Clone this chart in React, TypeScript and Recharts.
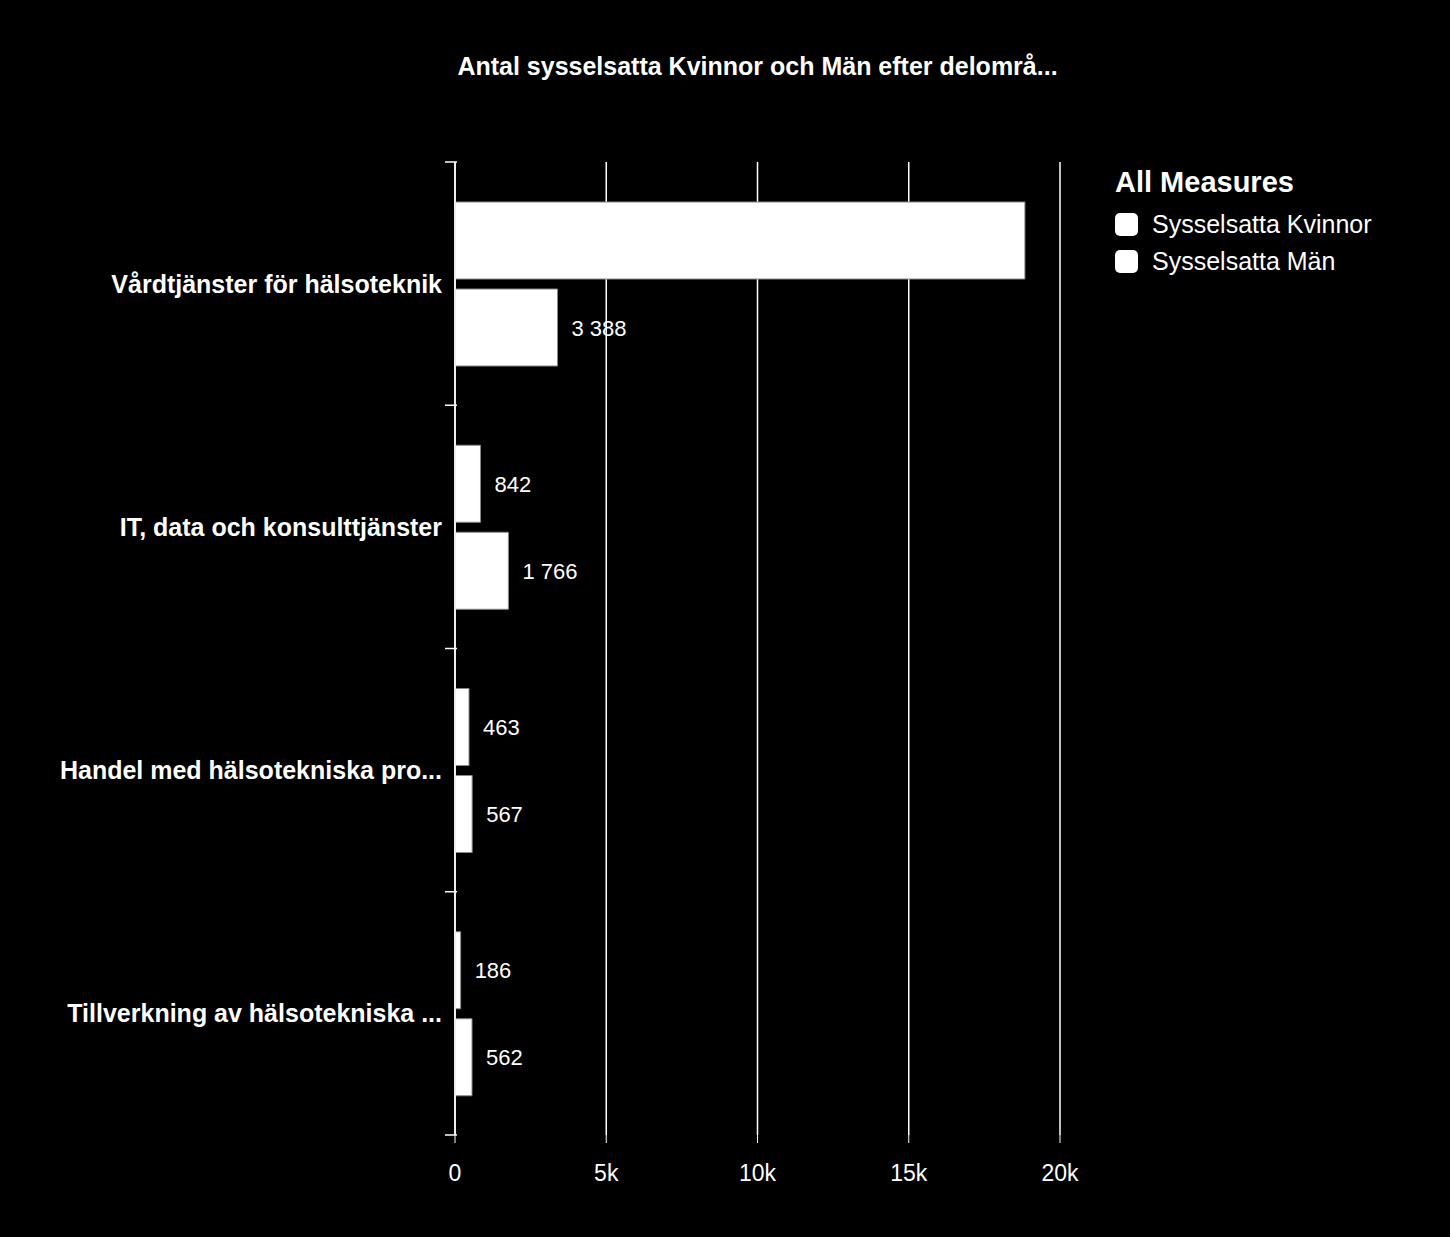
import { BarChart, Bar, XAxis, YAxis, CartesianGrid, LabelList } from "recharts";

const categories = [
  "Vårdtjänster för hälsoteknik",
  "IT, data och konsulttjänster",
  "Handel med hälsotekniska pro...",
  "Tillverkning av hälsotekniska ...",
];
const kvinnor = [18840, 842, 463, 186];
const man = [3388, 1766, 567, 562];
const xTicks = [0, 5000, 10000, 15000, 20000];

const data = categories.map((name, i) => ({ name, kvinnor: kvinnor[i], man: man[i] }));

const FONT = '"Liberation Sans", Arial, sans-serif';
const W = 1450;
const H = 1237;
const M = { top: 162, right: 390, bottom: 42, left: 0 };
const X_AXIS_H = 60;
const half = (H - M.top - M.bottom - X_AXIS_H) / categories.length / 2;

function fmt(v: number): string {
  return String(v).replace(/\B(?=(\d{3})+(?!\d))/g, " ");
}

function CategoryTick(props: any) {
  const { x, y, payload, index } = props;
  const ax = x + 10;
  return (
    <g>
      <line x1={ax - 12} x2={ax} y1={y - half} y2={y - half} stroke="#fff" strokeWidth={1.5} />
      {index === categories.length - 1 && (
        <line x1={ax - 12} x2={ax} y1={y + half} y2={y + half} stroke="#fff" strokeWidth={1.5} />
      )}
      <text x={x - 5} y={y} dy={9} textAnchor="end" fill="#fff" fontSize={25} fontWeight="bold" fontFamily={FONT}>
        {payload.value}
      </text>
    </g>
  );
}

function ValueLabel(props: any) {
  const { x, y, width, height, value } = props;
  const inside = x + width + 120 > W - M.right;
  return (
    <text
      x={inside ? x + width - 14 : x + width + 14}
      y={y + height / 2}
      dy={8}
      textAnchor={inside ? "end" : "start"}
      fill="#fff"
      fontSize={22}
      fontFamily={FONT}
    >
      {fmt(value)}
    </text>
  );
}

const legendItems = ["Sysselsatta Kvinnor", "Sysselsatta Män"];

export default function App() {
  return (
    <div style={{ position: "absolute", left: 0, top: 0, width: W, height: H, background: "#000", fontFamily: FONT }}>
      <div
        style={{
          position: "absolute",
          left: 455,
          width: 605,
          top: 52,
          textAlign: "center",
          color: "#fff",
          fontSize: 25,
          fontWeight: "bold",
          whiteSpace: "nowrap",
        }}
      >
        Antal sysselsatta Kvinnor och Män efter delområ...
      </div>
      <div style={{ position: "absolute", left: 1115, top: 164, color: "#fff" }}>
        <div style={{ fontSize: 29, fontWeight: "bold", marginBottom: 6, lineHeight: "36px" }}>All Measures</div>
        {legendItems.map((t) => (
          <div key={t} style={{ display: "flex", alignItems: "center", height: 37 }}>
            <div style={{ width: 23, height: 23, borderRadius: 5, background: "#fff", marginRight: 14 }} />
            <span style={{ fontSize: 25 }}>{t}</span>
          </div>
        ))}
      </div>
      <BarChart
        width={W}
        height={H}
        data={data}
        layout="vertical"
        margin={M}
        barCategoryGap={40}
        barGap={10}
      >
        <CartesianGrid horizontal={false} stroke="#fff" strokeWidth={1.5} />
        <XAxis
          type="number"
          domain={[0, 20000]}
          ticks={xTicks}
          tickFormatter={(v: number) => (v === 0 ? "0" : `${v / 1000}k`)}
          axisLine={false}
          tickLine={{ stroke: "#fff" }}
          tickSize={8}
          tickMargin={22}
          height={X_AXIS_H}
          tick={{ fill: "#fff", fontSize: 23, fontFamily: FONT }}
        />
        <YAxis
          type="category"
          dataKey="name"
          width={455}
          axisLine={{ stroke: "#fff", strokeWidth: 1.5 }}
          tickLine={false}
          tick={<CategoryTick />}
        />
        <Bar dataKey="kvinnor" fill="#fff" stroke="#888" strokeWidth={1} isAnimationActive={false}>
          <LabelList dataKey="kvinnor" content={<ValueLabel />} />
        </Bar>
        <Bar dataKey="man" fill="#fff" stroke="#888" strokeWidth={1} isAnimationActive={false}>
          <LabelList dataKey="man" content={<ValueLabel />} />
        </Bar>
      </BarChart>
    </div>
  );
}
